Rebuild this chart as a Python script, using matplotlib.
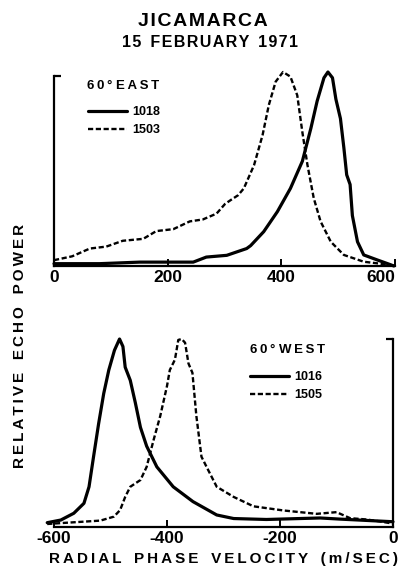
import matplotlib
matplotlib.use('Agg')
import matplotlib.pyplot as plt

# 60 deg east beam, velocities in m/sec, power normalised to peak
east_v_1018 = [0, 80, 151, 245, 268, 304, 339, 346, 369, 393, 416, 437, 452,
               463, 475, 482, 490, 496, 504, 510, 515, 521, 525, 534, 545,
               569, 589, 598]
east_p_1018 = [0.012, 0.012, 0.02, 0.02, 0.046, 0.055, 0.09, 0.105, 0.177,
               0.28, 0.40, 0.54, 0.71, 0.85, 0.97, 1.0, 0.97, 0.86, 0.76,
               0.61, 0.47, 0.42, 0.26, 0.125, 0.057, 0.031, 0.01, 0.0]
east_v_1503 = [0, 32, 63, 92, 121, 157, 180, 210, 239, 262, 286, 301, 311,
               324, 334, 352, 367, 378, 390, 403, 416, 428, 437, 446, 457,
               469, 487, 510, 545, 574, 598]
east_p_1503 = [0.03, 0.05, 0.09, 0.10, 0.13, 0.14, 0.18, 0.19, 0.23, 0.24,
               0.27, 0.32, 0.34, 0.365, 0.40, 0.52, 0.675, 0.83, 0.95, 1.0,
               0.976, 0.88, 0.69, 0.52, 0.35, 0.23, 0.125, 0.057, 0.022,
               0.012, 0.003]

# 60 deg west beam
west_v_1016 = [-612, -588, -565, -547, -538, -530, -521, -512, -503, -493,
               -484, -478, -474, -465, -456, -447, -436, -418, -389, -354,
               -312, -282, -224, -165, -129, -94, -47, 0]
west_p_1016 = [0.023, 0.037, 0.073, 0.126, 0.214, 0.374, 0.55, 0.71, 0.835,
               0.94, 1.0, 0.96, 0.85, 0.78, 0.66, 0.53, 0.43, 0.32, 0.214,
               0.135, 0.064, 0.045, 0.04, 0.045, 0.048, 0.042, 0.035, 0.028]
west_v_1505 = [-612, -576, -518, -494, -483, -474, -465, -447, -436, -424,
               -412, -400, -395, -386, -380, -374, -368, -362, -355, -348,
               -339, -330, -312, -282, -247, -194, -135, -100, -76, -47,
               -24, 0]
west_p_1505 = [0.016, 0.023, 0.034, 0.055, 0.09, 0.16, 0.214, 0.25, 0.32,
               0.46, 0.59, 0.75, 0.835, 0.89, 0.995, 1.0, 0.98, 0.87, 0.82,
               0.59, 0.374, 0.32, 0.214, 0.16, 0.11, 0.088, 0.07, 0.079,
               0.047, 0.04, 0.03, 0.018]

east_ticks = [0, 200, 400, 600]
west_ticks = [-600, -400, -200, 0]

plt.rcParams['font.family'] = ['Liberation Sans', 'DejaVu Sans']
plt.rcParams['font.weight'] = 'bold'

TS = '\u2009'  # thin space, used as letter spacing
HS = '\u200a'  # hair space


def spaced(words, word_gap='   ', sep=TS):
    return word_gap.join(sep.join(w) for w in words)


solid = dict(color='black', lw=2.3, solid_capstyle='round', clip_on=False)
dashed = dict(color='black', lw=1.7, linestyle=(0, (2.2, 1.1)), clip_on=False)
leg_kw = dict(loc='upper left', frameon=False, borderpad=0, borderaxespad=0,
              handlelength=3.1, handletextpad=0.45, labelspacing=0.5,
              prop={'size': 9, 'weight': 'bold'})

fig = plt.figure(figsize=(4.06, 5.73), dpi=100)

# upper panel
ax1 = fig.add_axes([54 / 406, 1 - 266 / 573, 341 / 406, 194 / 573])
l1, = ax1.plot(east_v_1018, east_p_1018, **solid)
l2, = ax1.plot(east_v_1503, east_p_1503, **dashed)
ax1.set_xlim(0, 600)
ax1.set_ylim(0, 1)
for s in ['top', 'right']:
    ax1.spines[s].set_visible(False)
ax1.spines['left'].set_bounds(0, 0.98)
for s in ['left', 'bottom']:
    ax1.spines[s].set_linewidth(1.6)
ax1.set_xticks(east_ticks)
ax1.set_xticklabels([str(t) for t in east_ticks])
ax1.get_xticklabels()[-1].set_horizontalalignment('right')
ax1.set_yticks([0.98])
ax1.set_yticklabels([])
ax1.tick_params(axis='x', direction='in', length=5, width=1.4, pad=3,
                labelsize=12.5)
ax1.tick_params(axis='y', direction='in', length=5, width=1.6)
ax1.text(0.097, 0.928, spaced(['60°', 'EAST'], ' '), transform=ax1.transAxes,
         ha='left', va='center', fontsize=9.5, fontweight='bold')
ax1.legend([l1, l2], ['1018', '1503'], bbox_to_anchor=(0.1, 0.825), **leg_kw)

# lower panel
ax2 = fig.add_axes([54 / 406, 1 - 527 / 573, 339 / 406, 188 / 573])
l3, = ax2.plot(west_v_1016, west_p_1016, **solid)
l4, = ax2.plot(west_v_1505, west_p_1505, **dashed)
ax2.set_xlim(-600, 0)
ax2.set_ylim(0, 1)
for s in ['top', 'left']:
    ax2.spines[s].set_visible(False)
ax2.spines['right'].set_bounds(0, 1.0)
for s in ['right', 'bottom']:
    ax2.spines[s].set_linewidth(1.6)
ax2.set_xticks(west_ticks)
ax2.set_xticklabels([str(t) for t in west_ticks])
ax2.yaxis.tick_right()
ax2.set_yticks([1.0])
ax2.set_yticklabels([])
ax2.tick_params(axis='x', direction='in', length=5, width=1.4, pad=3,
                labelsize=12.5)
ax2.tick_params(axis='y', direction='in', length=5, width=1.6)
ax2.text(0.578, 0.94, spaced(['60°', 'WEST'], ' '), transform=ax2.transAxes,
         ha='left', va='center', fontsize=9.5, fontweight='bold')
ax2.legend([l3, l4], ['1016', '1505'], bbox_to_anchor=(0.578, 0.83), **leg_kw)

# titles and axis labels
fig.text(203 / 406, 1 - 21 / 573, spaced(['JICAMARCA'], sep=HS),
         ha='center', va='center', fontsize=14, fontweight='bold')
fig.text(210 / 406, 1 - 42.5 / 573,
         spaced(['15', 'FEBRUARY', '1971'], '  ', sep=HS),
         ha='center', va='center', fontsize=11.5, fontweight='bold')
fig.text(20 / 406, 1 - 346 / 573, spaced(['RELATIVE', 'ECHO', 'POWER']),
         rotation=90, ha='center', va='center', fontsize=11, fontweight='bold')
fig.text(224 / 406, 1 - 559 / 573,
         spaced(['RADIAL', 'PHASE', 'VELOCITY', '(m/SEC)']),
         ha='center', va='center', fontsize=11, fontweight='bold')

fig.savefig('out.png', dpi=100)
